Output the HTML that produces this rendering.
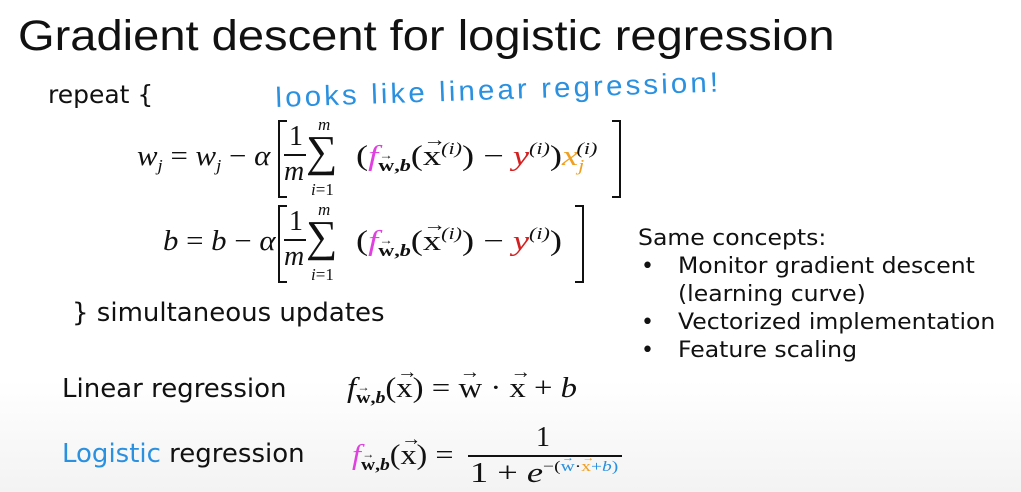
<!DOCTYPE html>
<html><head><meta charset="utf-8"><style>
body{margin:0;width:1021px;height:492px;overflow:hidden;background:linear-gradient(#fff 0,#fff 380px,#f3f3f3 492px);position:relative;font-family:"DejaVu Sans",sans-serif;color:#111}
.a{position:absolute;white-space:nowrap;line-height:1;transform-origin:left top}
.m{font-family:"Liberation Serif",serif;font-style:italic;font-size:28px}
.r{font-style:normal}
.s{font-size:17px;position:relative}
.sub{top:6px}.sup{top:-11px}
.vec{position:relative;display:inline-block;font-style:normal}
.vec::before{content:"→";position:absolute;left:0;right:0;text-align:center;top:-0.62em;font-size:0.7em;font-style:normal;transform:scaleX(0.9)}
.brL{position:absolute;border:2px solid #111;border-right:none;width:7px}
.brR{position:absolute;border:2px solid #111;border-left:none;width:7px}
.bar{position:absolute;height:2px;background:#111}
.pk{color:#e040e0}.rd{color:#d42020}.or{color:#f0a020}.bl{color:#2a90e0}
.rt{font-size:22px;transform:scaleX(1.07)}
</style></head><body>
<div class="a" style="left:18px;top:15px;font-size:43px;font-family:'Liberation Sans',sans-serif;transform:scaleX(1.095)">Gradient descent for logistic regression</div>
<div class="a" style="left:48px;top:82px;font-size:25px">repeat {</div>
<div class="a bl" style="left:275px;top:84px;font-size:28px;letter-spacing:3px;font-family:'Liberation Sans',sans-serif;transform:rotate(-2deg) scaleX(1.05)">looks like linear regression!</div>

<!-- line 1 -->
<div class="a m" style="left:137px;top:143px;transform:scaleX(1.1)">w<span class="s sub">j</span> <span class="r">=</span> w<span class="s sub">j</span> <span class="r">−</span> α</div>
<div class="brL" style="left:278px;top:120px;height:74px"></div>
<div class="a m r" style="left:289px;top:123px">1</div>
<div class="bar" style="left:284px;top:154px;width:22px"></div>
<div class="a m" style="left:284px;top:158px">m</div>
<div class="a r" style="left:306px;top:130px;font-size:44px;font-family:'Liberation Serif',serif">∑</div>
<div class="a m" style="left:318px;top:116px;font-size:17px">m</div>
<div class="a m" style="left:311px;top:181px;font-size:17px">i<span class="r">=1</span></div>
<div class="a m" style="left:356px;top:143px;transform:scaleX(1.3)"><span class="r">(</span><span class="pk">f</span><span class="s sub r" style="font-weight:bold"><span class="vec">w</span>,<i>b</i></span><span class="r">(<span class="vec">x</span></span><span class="s sup">(i)</span><span class="r">) − </span><span class="rd">y</span><span class="s sup">(i)</span><span class="r">)</span><span class="or">x<span class="s sub">j</span></span><span class="s sup" style="left:-6px">(i)</span></div>
<div class="brR" style="left:612px;top:120px;height:74px"></div>

<!-- line 2 -->
<div class="a m" style="left:163px;top:228px;transform:scaleX(1.1)">b <span class="r">=</span> b <span class="r">−</span> α</div>
<div class="brL" style="left:278px;top:205px;height:74px"></div>
<div class="a m r" style="left:289px;top:208px">1</div>
<div class="bar" style="left:284px;top:239px;width:22px"></div>
<div class="a m" style="left:284px;top:243px">m</div>
<div class="a r" style="left:306px;top:215px;font-size:44px;font-family:'Liberation Serif',serif">∑</div>
<div class="a m" style="left:318px;top:201px;font-size:17px">m</div>
<div class="a m" style="left:311px;top:266px;font-size:17px">i<span class="r">=1</span></div>
<div class="a m" style="left:356px;top:228px;transform:scaleX(1.3)"><span class="r">(</span><span class="pk">f</span><span class="s sub r" style="font-weight:bold"><span class="vec">w</span>,<i>b</i></span><span class="r">(<span class="vec">x</span></span><span class="s sup">(i)</span><span class="r">) − </span><span class="rd">y</span><span class="s sup">(i)</span><span class="r">)</span></div>
<div class="brR" style="left:575px;top:205px;height:74px"></div>

<div class="a" style="left:72px;top:300px;font-size:26px">} simultaneous updates</div>

<div class="a rt" style="left:638px;top:228px">Same concepts:</div>
<div class="a" style="left:641px;top:256px;font-size:22px">•</div>
<div class="a rt" style="left:678px;top:256px">Monitor gradient descent</div>
<div class="a rt" style="left:678px;top:284px">(learning curve)</div>
<div class="a" style="left:641px;top:312px;font-size:22px">•</div>
<div class="a rt" style="left:678px;top:312px">Vectorized implementation</div>
<div class="a" style="left:641px;top:340px;font-size:22px">•</div>
<div class="a rt" style="left:678px;top:340px">Feature scaling</div>

<div class="a" style="left:62px;top:376px;font-size:26px">Linear regression</div>
<div class="a m" style="left:347px;top:375px;transform:scaleX(1.17)">f<span class="s sub r" style="font-weight:bold"><span class="vec">w</span>,<i>b</i></span><span class="r">(<span class="vec">x</span>) = <span class="vec">w</span> · <span class="vec">x</span> + </span>b</div>

<div class="a" style="left:62px;top:441px;font-size:26px"><span class="bl">Logistic</span> regression</div>
<div class="a m" style="left:352px;top:442px;transform:scaleX(1.15)"><span class="pk">f</span><span class="s sub r" style="font-weight:bold"><span class="vec">w</span>,<i>b</i></span><span class="r">(<span class="vec">x</span>) =</span></div>
<div class="a m r" style="left:536px;top:424px">1</div>
<div class="bar" style="left:468px;top:455px;width:154px"></div>
<div class="a m" style="left:470px;top:460px;transform:scaleX(1.3)"><span class="r">1 + </span>e<span class="s sup" style="font-size:15px"><span class="r">−(</span><span class="bl r"><span class="vec">w</span></span><span class="r">·</span><span class="or r"><span class="vec">x</span></span><span class="bl r">+</span><span class="bl">b</span><span class="r bl">)</span></span></div>
</body></html>
